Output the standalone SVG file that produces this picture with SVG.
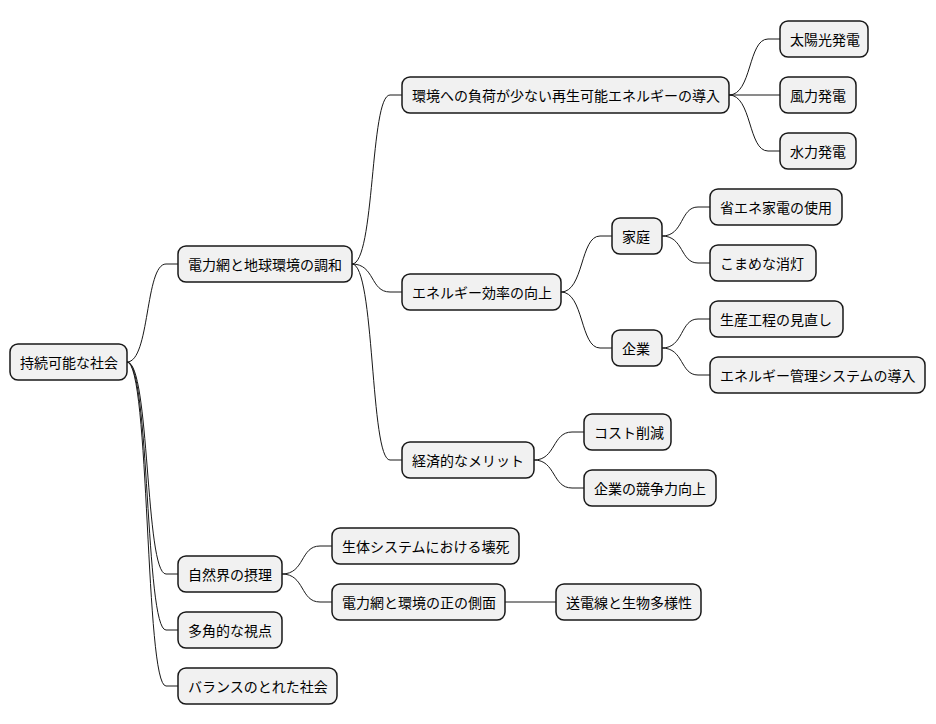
<svg xmlns="http://www.w3.org/2000/svg" width="936" height="724" viewBox="0 0 936 724">
<style>
rect{fill:#f1f1f1;stroke:#181818;stroke-width:1.5}
text{font-family:"Noto Sans CJK JP","Noto Sans CJK SC",sans-serif;font-size:14px;fill:#000;dominant-baseline:central}
#c path{fill:none;stroke:#181818;stroke-width:1}
</style>
<rect x="0" y="0" width="936" height="724" style="fill:#fff;stroke:none"/>
<g id="c">
<path d="M127,362 C150,362 145,264 166,264 L178,264"/>
<path d="M127,362 C150,362 145,574 166,574 L178,574"/>
<path d="M127,362 C150,362 145,630 166,630 L178,630"/>
<path d="M127,362 C150,362 145,686 166,686 L178,686"/>
<path d="M352,264 C375,264 370,95 390,95 L402,95"/>
<path d="M352,264 C375,264 370,292 390,292 L402,292"/>
<path d="M352,264 C375,264 370,460 390,460 L402,460"/>
<path d="M729,95 C752,95 748,39 768,39 L780,39"/>
<path d="M729,95 L780,95"/>
<path d="M729,95 C752,95 748,151 768,151 L780,151"/>
<path d="M561,292 C584,292 580,236 600,236 L612,236"/>
<path d="M561,292 C584,292 580,348 600,348 L612,348"/>
<path d="M662,236 C684,236 680,207 698,207 L710,207"/>
<path d="M662,236 C684,236 680,263 698,263 L710,263"/>
<path d="M662,348 C684,348 680,319 698,319 L710,319"/>
<path d="M662,348 C684,348 680,375 698,375 L710,375"/>
<path d="M534,460 C556,460 552,432 572,432 L584,432"/>
<path d="M534,460 C556,460 552,488 572,488 L584,488"/>
<path d="M282,574 C305,574 300,546 320,546 L332,546"/>
<path d="M282,574 C305,574 300,602 320,602 L332,602"/>
<path d="M505,602 L556,602"/>
</g>
<g id="n1"><rect x="10" y="344" width="117" height="36" rx="8"/><text x="20" y="362">持続可能な社会</text></g>
<g id="n2"><rect x="178" y="246" width="174" height="36" rx="8"/><text x="188" y="264">電力網と地球環境の調和</text></g>
<g id="n3"><rect x="402" y="77" width="327" height="36" rx="8"/><text x="412" y="95">環境への負荷が少ない再生可能エネルギーの導入</text></g>
<g id="n4"><rect x="780" y="21" width="88" height="36" rx="8"/><text x="790" y="39">太陽光発電</text></g>
<g id="n5"><rect x="780" y="77" width="76" height="36" rx="8"/><text x="790" y="95">風力発電</text></g>
<g id="n6"><rect x="780" y="133" width="76" height="36" rx="8"/><text x="790" y="151">水力発電</text></g>
<g id="n7"><rect x="402" y="274" width="159" height="36" rx="8"/><text x="412" y="292">エネルギー効率の向上</text></g>
<g id="n8"><rect x="612" y="218" width="50" height="36" rx="8"/><text x="622" y="236">家庭</text></g>
<g id="n9"><rect x="710" y="189" width="132" height="36" rx="8"/><text x="720" y="207">省エネ家電の使用</text></g>
<g id="n10"><rect x="710" y="245" width="106" height="36" rx="8"/><text x="720" y="263">こまめな消灯</text></g>
<g id="n11"><rect x="612" y="330" width="50" height="36" rx="8"/><text x="622" y="348">企業</text></g>
<g id="n12"><rect x="710" y="301" width="133" height="36" rx="8"/><text x="720" y="319">生産工程の見直し</text></g>
<g id="n13"><rect x="710" y="357" width="215" height="36" rx="8"/><text x="720" y="375">エネルギー管理システムの導入</text></g>
<g id="n14"><rect x="402" y="442" width="132" height="36" rx="8"/><text x="412" y="460">経済的なメリット</text></g>
<g id="n15"><rect x="584" y="414" width="87" height="36" rx="8"/><text x="594" y="432">コスト削減</text></g>
<g id="n16"><rect x="584" y="470" width="132" height="36" rx="8"/><text x="594" y="488">企業の競争力向上</text></g>
<g id="n17"><rect x="178" y="556" width="104" height="36" rx="8"/><text x="188" y="574">自然界の摂理</text></g>
<g id="n18"><rect x="332" y="528" width="187" height="36" rx="8"/><text x="342" y="546">生体システムにおける壊死</text></g>
<g id="n19"><rect x="332" y="584" width="173" height="36" rx="8"/><text x="342" y="602">電力網と環境の正の側面</text></g>
<g id="n20"><rect x="556" y="584" width="145" height="36" rx="8"/><text x="566" y="602">送電線と生物多様性</text></g>
<g id="n21"><rect x="178" y="612" width="104" height="36" rx="8"/><text x="188" y="630">多角的な視点</text></g>
<g id="n22"><rect x="178" y="668" width="159" height="36" rx="8"/><text x="188" y="686">バランスのとれた社会</text></g>
</svg>
